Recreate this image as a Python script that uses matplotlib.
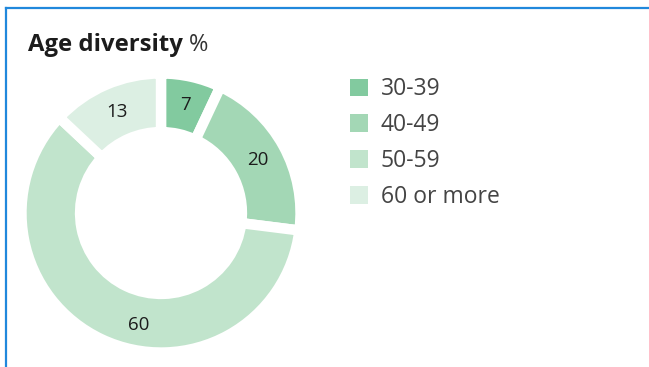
import matplotlib
matplotlib.use("Agg")
import matplotlib.pyplot as plt
import numpy as np
from matplotlib.lines import Line2D
from matplotlib.patches import Patch

plt.rcParams["font.family"] = ["Open Sans", "DejaVu Sans"]

# age bands and their share of staff (%)
age_groups = ["30-39", "40-49", "50-59", "60 or more"]
shares = [7, 20, 60, 13]
colors = ["#82ca9f", "#a3d7b5", "#c1e4cc", "#dcefe3"]

W, H = 649, 367
fig = plt.figure(figsize=(W / 100, H / 100), dpi=100)

# frame lines along top and left edge
fig.add_artist(Line2D([6 / W, 6 / W], [0, 1 - 8 / H], color="#2088dc", lw=1.6))
fig.add_artist(Line2D([6 / W, 648 / W], [1 - 8 / H, 1 - 8 / H], color="#2088dc", lw=1.6))

title = fig.text(28 / W, 1 - 45 / H, "Age diversity", fontsize=17.2, fontweight="bold",
                 color="#1c1c1c", va="center", ha="left")
renderer = fig.canvas.get_renderer()
bb = title.get_window_extent(renderer)
fig.text((bb.x1 + 6) / W, 1 - 45 / H, "%", fontsize=17, color="#333333",
         va="center", ha="left")

cx, cy, half = 161, H - 213, 146.5
ax = fig.add_axes([(cx - half) / W, (cy - half) / H, 2 * half / W, 2 * half / H])
wedges, _, autotexts = ax.pie(
    shares, colors=colors, startangle=90, counterclock=False, radius=1.0,
    autopct=lambda p: f"{p:.0f}", pctdistance=0.79,
    wedgeprops=dict(width=0.42, edgecolor="white", linewidth=7.5),
    textprops=dict(fontsize=13.5, color="#1c1c1c"),
)
# the big 50-59 label sits a bit right of the segment middle
ang = np.deg2rad(-101.5)
autotexts[2].set_position((0.817 * np.cos(ang), 0.817 * np.sin(ang)))
ax.set_xlim(-1.05, 1.05)
ax.set_ylim(-1.05, 1.05)
ax.set_aspect("equal")
ax.axis("off")

handles = [Patch(facecolor=c, edgecolor="none") for c in colors]
fig.legend(handles, age_groups, loc="upper left",
           bbox_to_anchor=(341 / W, 1 - 68 / H), frameon=False,
           fontsize=16.5, labelcolor="#444444", handlelength=0.78,
           handleheight=0.78, handletextpad=0.55, labelspacing=0.52,
           borderaxespad=0)

fig.savefig("out.png", dpi=100)
